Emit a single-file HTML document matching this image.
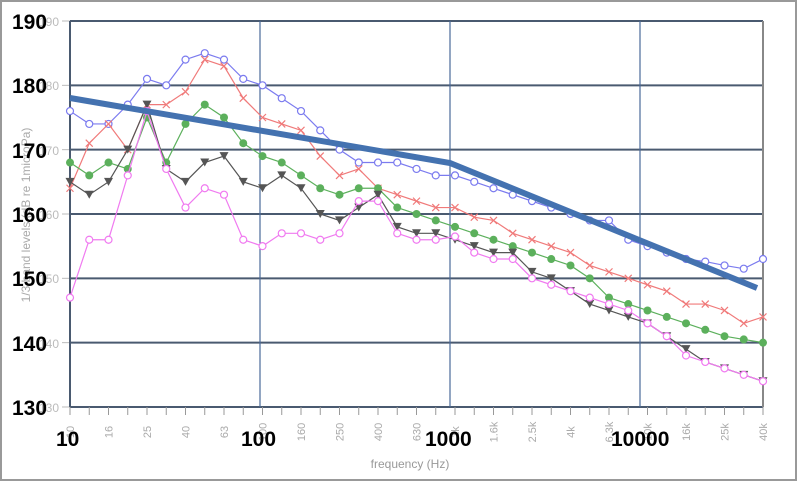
<!DOCTYPE html><html><head><meta charset="utf-8"><style>
body{margin:0;background:#fff;width:798px;height:482px;overflow:hidden}
svg{display:block}
</style></head><body>
<svg id="s" width="798" height="482" xmlns="http://www.w3.org/2000/svg" font-family="Liberation Sans, sans-serif">
<rect x="1" y="1" width="795" height="479" fill="#fff" stroke="#999" stroke-width="2"/>
<g font-size="12" fill="#bbb" text-anchor="end">
<text x="59" y="26">190</text><text x="59" y="90">180</text><text x="59" y="155">170</text><text x="59" y="219">160</text><text x="59" y="283">150</text><text x="59" y="348">140</text><text x="59" y="412">130</text>
</g>
<g id="grid"></g>
<g id="data"></g>
<polyline points="70,98 450,163 757,288" fill="none" stroke="#4472b0" stroke-width="6"/>
<text x="0" y="0" transform="translate(30,215) rotate(-90)" text-anchor="middle" font-size="12" fill="#aaa">1/3 band levels (dB re 1microPa)</text>
<text x="410" y="468" text-anchor="middle" font-size="12" fill="#999">frequency (Hz)</text>
<g font-weight="bold" font-size="21" font-family="Liberation Sans, sans-serif" fill="#000">
<text x="12" y="29">190</text><text x="12" y="93">180</text><text x="12" y="158">170</text><text x="12" y="222">160</text><text x="12" y="286">150</text><text x="12" y="351">140</text><text x="12" y="415">130</text>
<text x="56" y="446">10</text><text x="241" y="446">100</text><text x="425" y="446">1000</text><text x="611" y="446">10000</text>
</g>
</svg>
<script>
const ns="http://www.w3.org/2000/svg";
function el(t,a,p){const e=document.createElementNS(ns,t);for(const k in a)e.setAttribute(k,a[k]);p.appendChild(e);return e;}
const g=document.getElementById('grid'),d=document.getElementById('data');
const X=i=>70+i*19.25, Y=v=>21+(190-v)*6.433;
for(let v=130;v<=190;v+=10){el('line',{x1:70,x2:763,y1:Y(v),y2:Y(v),stroke:'#4a5a70','stroke-width':2},g);
 el('line',{x1:62,x2:70,y1:Y(v),y2:Y(v),stroke:'#bbb'},g);}
el('line',{x1:70,x2:70,y1:21,y2:407,stroke:'#4a5a70','stroke-width':2},g);
el('line',{x1:763,x2:763,y1:21,y2:407,stroke:'#888','stroke-width':2},g);
[260,450,640].forEach(x=>el('line',{x1:x,x2:x,y1:21,y2:407,stroke:'#4a6a9a','stroke-width':1.2},g));
const labs=['10','','16','','25','','40','','63','','100','','160','','250','','400','','630','','1k','','1.6k','','2.5k','','4k','','6.3k','','10k','','16k','','25k','','40k'];
labs.forEach((l,i)=>{el('line',{x1:X(i),x2:X(i),y1:407,y2:415,stroke:'#999'},g);
 if(l){const t=el('text',{transform:`translate(${X(i)+4},${432}) rotate(-90)`,'text-anchor':'middle','font-size':11,fill:'#aaa'},g);t.textContent=l;}});
const S=[
 {c:'#7b7bef',m:'o',v:[176,174,174,177,181,180,184,185,184,181,180,178,176,173,170,168,168,168,167,166,166,165,164,163,162,161,160,159,159,156,155,154,153,152.6,152,151.5,153]},
 {c:'#f07a7a',m:'x',v:[164,171,174,170,177,177,179,184,183,178,175,174,173,169,166,167,164,163,162,161,161,159.5,159,157,156,155,154,152,151,150,149,148,146,146,145,143,144]},
 {c:'#5cb05c',m:'d',v:[168,166,168,167,175,168,174,177,175,171,169,168,166,164,163,164,164,161,160,159,158,157,156,155,154,153,152,150,147,146,145,144,143,142,141,140.5,140]},
 {c:'#555',m:'t',v:[165,163,165,170,177,167,165,168,169,165,164,166,164,160,159,161,163,158,157,157,156,155,154,154,151,150,148,146,145,144,143,141,139,137,136,135,134]},
 {c:'#f07af0',m:'o',v:[147,156,156,166,176,167,161,164,163,156,155,157,157,156,157,162,162,157,156,156,156.5,154,153,153,150,149,148,147,146,145,143,141,138,137,136,135,134]}];
S.forEach(s=>{el('polyline',{points:s.v.map((v,i)=>X(i)+','+Y(v)).join(' '),fill:'none',stroke:s.c,'stroke-width':1.2},d);
 s.v.forEach((v,i)=>{const x=X(i),y=Y(v);
  if(s.m=='o')el('circle',{cx:x,cy:y,r:3.5,fill:'#fff',stroke:s.c,'stroke-width':1.2},d);
  else if(s.m=='d')el('circle',{cx:x,cy:y,r:4,fill:s.c},d);
  else if(s.m=='t')el('polygon',{points:`${x-4.5},${y-4} ${x+4.5},${y-4} ${x},${y+4}`,fill:s.c},d);
  else el('path',{d:`M${x-3.5},${y-3.5}L${x+3.5},${y+3.5}M${x+3.5},${y-3.5}L${x-3.5},${y+3.5}`,stroke:s.c,'stroke-width':1.2},d);});});
</script>
</body></html>
